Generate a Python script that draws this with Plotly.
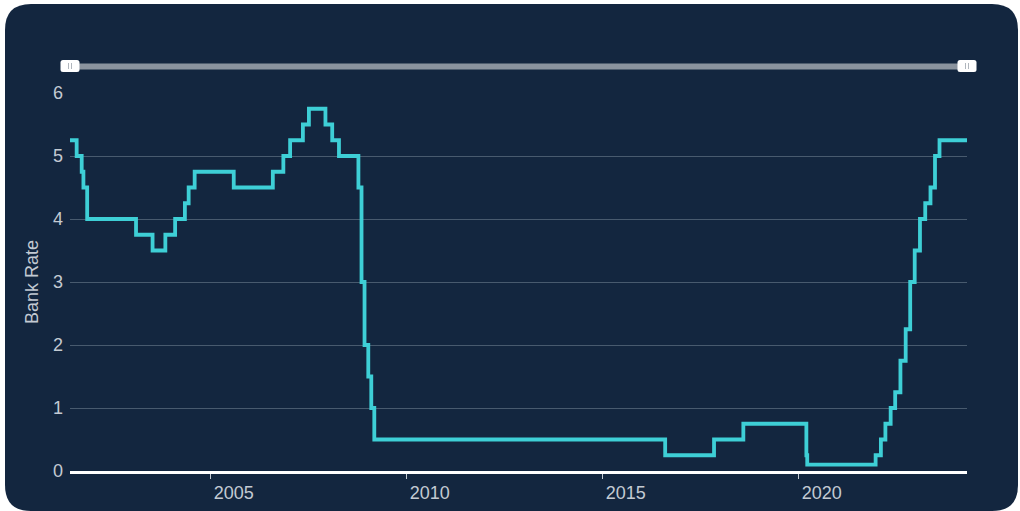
import plotly.graph_objects as go

# ---- data: Bank Rate change dates and values ----
dates = [
    "2001-06-01", "2001-08-02", "2001-09-18", "2001-10-04", "2001-11-08",
    "2003-02-06", "2003-07-10", "2003-11-06", "2004-02-05", "2004-05-06",
    "2004-06-10", "2004-08-05", "2005-08-04", "2006-08-03", "2006-11-09",
    "2007-01-11", "2007-05-10", "2007-07-05", "2007-12-06", "2008-02-07",
    "2008-04-10", "2008-10-08", "2008-11-06", "2008-12-04", "2009-01-08",
    "2009-02-05", "2009-03-05", "2016-08-04", "2017-11-02", "2018-08-02",
    "2020-03-11", "2020-03-19", "2021-12-16", "2022-02-03", "2022-03-17",
    "2022-05-05", "2022-06-16", "2022-08-04", "2022-09-22", "2022-11-03",
    "2022-12-15", "2023-02-02", "2023-03-23", "2023-05-11", "2023-06-22",
    "2023-08-03", "2024-04-15",
]
rates = [
    5.25, 5.00, 4.75, 4.50, 4.00,
    3.75, 3.50, 3.75, 4.00, 4.25,
    4.50, 4.75, 4.50, 4.75, 5.00,
    5.25, 5.50, 5.75, 5.50, 5.25,
    5.00, 4.50, 3.00, 2.00, 1.50,
    1.00, 0.50, 0.25, 0.50, 0.75,
    0.25, 0.10, 0.25, 0.50, 0.75,
    1.00, 1.25, 1.75, 2.25, 3.00,
    3.50, 4.00, 4.25, 4.50, 5.00,
    5.25, 5.25,
]
y_title = "Bank Rate"

# ---- layout geometry (pixels) ----
W, H = 1020, 511
L, R, T, B = 70, 53, 93, 40
PW, PH = W - L - R, H - T - B

def px(x):
    return (x - L) / PW

def py(y):
    return (H - B - y) / PH

NAVY = "rgb(19,38,63)"
CYAN = "#3ecfd6"
GRID = "#485a6e"
TXT = "#c3cad3"

def rounded_rect(x0, y0, x1, y1, r):
    pts = [
        f"M {px(x0 + r)} {py(y0)}",
        f"L {px(x1 - r)} {py(y0)}",
        f"Q {px(x1)} {py(y0)} {px(x1)} {py(y0 + r)}",
        f"L {px(x1)} {py(y1 - r)}",
        f"Q {px(x1)} {py(y1)} {px(x1 - r)} {py(y1)}",
        f"L {px(x0 + r)} {py(y1)}",
        f"Q {px(x0)} {py(y1)} {px(x0)} {py(y1 - r)}",
        f"L {px(x0)} {py(y0 + r)}",
        f"Q {px(x0)} {py(y0)} {px(x0 + r)} {py(y0)}",
        "Z",
    ]
    return " ".join(pts)

fig = go.Figure()
fig.add_trace(go.Scatter(
    x=dates, y=rates, mode="lines", line=dict(color=CYAN, width=3.8, shape="hv"),
    hoverinfo="x+y", showlegend=False,
))

shapes = []
shapes.append(dict(type="path", xref="paper", yref="paper", layer="below",
                   path=rounded_rect(5, 4, 1018, 511, 26),
                   fillcolor=NAVY, line=dict(width=0)))
shapes.append(dict(type="rect", xref="paper", yref="paper", layer="above",
                   x0=px(70), x1=px(967), y0=py(69.5), y1=py(63.5),
                   fillcolor="#8a939e", line=dict(width=0)))
for cx in (70, 967):
    shapes.append(dict(type="path", xref="paper", yref="paper", layer="above",
                       path=rounded_rect(cx - 9.5, 60, cx + 9.5, 72, 2.5),
                       fillcolor="#ffffff", line=dict(width=0)))
    for dx in (-1.5, 1.5):
        shapes.append(dict(type="line", xref="paper", yref="paper", layer="above",
                           x0=px(cx + dx), x1=px(cx + dx), y0=py(63), y1=py(69),
                           line=dict(color="#b0b6bd", width=1)))

fig.update_layout(
    width=W, height=H,
    margin=dict(l=L, r=R, t=T, b=B, pad=0, autoexpand=False),
    paper_bgcolor="#ffffff",
    plot_bgcolor="rgba(0,0,0,0)",
    font=dict(family="Liberation Sans, Arial, sans-serif", size=18, color=TXT),
    shapes=shapes,
    xaxis=dict(
        type="date", range=[dates[0], dates[-1]],
        tick0="2005-01-01", dtick="M60", tickformat="%Y",
        ticks="outside", ticklen=5, tickwidth=1, tickcolor=TXT,
        ticklabelshift=23, ticklabelstandoff=-1,
        showgrid=False, zeroline=False,
        showline=True, linecolor="#ffffff", linewidth=2.5,
        tickfont=dict(size=18, color=TXT),
        automargin=False, fixedrange=True,
    ),
    yaxis=dict(
        range=[0, 6], dtick=1, tick0=0,
        showgrid=True, gridcolor=GRID, gridwidth=1,
        zeroline=False, showline=False, ticks="",
        tickfont=dict(size=18, color=TXT),
        ticklabelstandoff=6,
        title=dict(text=y_title, font=dict(size=18, color=TXT), standoff=9),
        automargin=False, fixedrange=True,
    ),
)

fig.write_html("out.html", config={"displayModeBar": False})
